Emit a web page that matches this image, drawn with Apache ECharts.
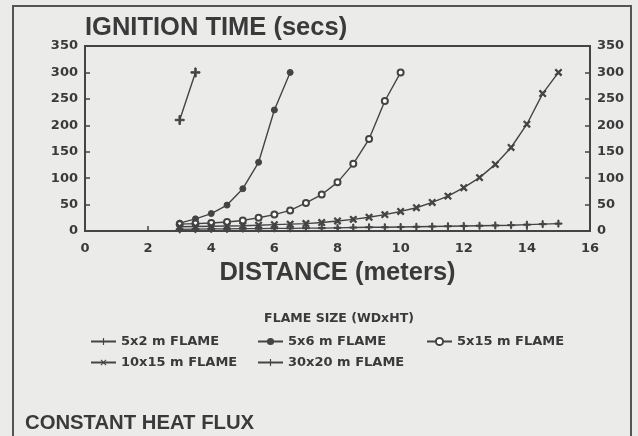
<!DOCTYPE html>
<html><head><meta charset="utf-8">
<script src="https://cdn.jsdelivr.net/npm/echarts@6/dist/echarts.min.js"></script>
<style>html,body{margin:0;padding:0;background:#ebebea;}#c{width:638px;height:436px;}</style>
</head><body><div id="c"></div>
<script>
const xTicks = [0, 2, 4, 6, 8, 10, 12, 14, 16];
const yTicks = [0, 50, 100, 150, 200, 250, 300, 350];
const seriesNames = ['5x2 m FLAME', '5x6 m FLAME', '5x15 m FLAME', '10x15 m FLAME', '30x20 m FLAME'];
const x5x2 = [3, 3.5];
const v5x2 = [210, 300];
const x5x6 = [3, 3.5, 4, 4.5, 5, 5.5, 6, 6.5];
const v5x6 = [15, 23, 33, 49, 80, 130, 229, 300];
const x5x15 = [3, 3.5, 4, 4.5, 5, 5.5, 6, 6.5, 7, 7.5, 8, 8.5, 9, 9.5, 10];
const v5x15 = [13, 14, 15, 17, 20, 25, 31, 39, 53, 69, 92, 127, 174, 246, 300];
const x10x15 = [3, 3.5, 4, 4.5, 5, 5.5, 6, 6.5, 7, 7.5, 8, 8.5, 9, 9.5, 10, 10.5, 11, 11.5, 12, 12.5, 13, 13.5, 14, 14.5, 15];
const v10x15 = [8, 8.5, 9, 9.5, 10, 11, 12, 13, 14, 16, 19, 22, 26, 31, 37, 44, 54, 66, 82, 101, 126, 158, 202, 260, 300];
const x30x20 = [3, 3.5, 4, 4.5, 5, 5.5, 6, 6.5, 7, 7.5, 8, 8.5, 9, 9.5, 10, 10.5, 11, 11.5, 12, 12.5, 13, 13.5, 14, 14.5, 15];
const v30x20 = [3, 3.5, 4, 4, 4.5, 4.5, 5, 5, 5.5, 5.5, 6, 6.5, 7, 7, 7.5, 8, 8.5, 9, 9.5, 10, 10.5, 11, 12, 13, 14];

const ink = '#444444';
const txt = '#3a3a3a';
const FF = 'Liberation Sans, Arial, sans-serif';
const FW = 'DejaVu Sans, sans-serif';
const plus = 'path://M4.2,0H5.8V4.2H10V5.8H5.8V10H4.2V5.8H0V4.2H4.2Z';
const pair = (xs, vs) => xs.map((x, i) => [x, vs[i]]);

const mk = (name, data, symbol, size, extra) => Object.assign({
  name, type: 'line', data, symbol, symbolSize: size,
  lineStyle: { color: ink, width: 1.4 },
  itemStyle: { color: ink, borderColor: ink },
  emphasis: { disabled: true }, animation: false
}, extra || {});

const series = [
  mk(seriesNames[0], pair(x5x2, v5x2), plus, 9),
  mk(seriesNames[1], pair(x5x6, v5x6), 'circle', 6),
  mk(seriesNames[2], pair(x5x15, v5x15), 'emptyCircle', 6, { itemStyle: { color: ink, borderColor: ink, borderWidth: 1.5 } }),
  mk(seriesNames[3], pair(x10x15, v10x15), plus, 8, { symbolRotate: 45 }),
  mk(seriesNames[4], pair(x30x20, v30x20), plus, 7)
];

const legTxt = { color: txt, fontSize: 13, fontWeight: 'bold', fontFamily: FW };
const legBase = { orient: 'vertical', itemWidth: 25, itemHeight: 9, itemGap: 8, textStyle: legTxt, selectedMode: false, top: 330 };
const tickLbl = { color: txt, fontSize: 13, fontWeight: 'bold', fontFamily: FW, margin: 7 };

const chart = echarts.init(document.getElementById('c'));
chart.setOption({
  backgroundColor: '#ebebea',
  animation: false,
  grid: { left: 85, right: 48, top: 46, bottom: 205, show: true, borderColor: ink, borderWidth: 2, backgroundColor: 'transparent' },
  xAxis: {
    type: 'value', min: xTicks[0], max: xTicks[xTicks.length - 1], interval: 2,
    axisLine: { lineStyle: { color: ink, width: 2 } },
    axisTick: { inside: true, length: 5, lineStyle: { color: ink, width: 1.5 } },
    splitLine: { show: false },
    axisLabel: Object.assign({}, tickLbl, { margin: 11 }),
    name: 'DISTANCE (meters)', nameLocation: 'middle', nameGap: 29,
    nameTextStyle: { color: txt, fontSize: 25.5, fontWeight: 'bold', fontFamily: FF }
  },
  yAxis: [{
    type: 'value', min: yTicks[0], max: yTicks[yTicks.length - 1], interval: 50,
    axisLine: { show: true, lineStyle: { color: ink, width: 2 } },
    axisTick: { show: true, inside: true, length: 5, lineStyle: { color: ink, width: 1.5 } },
    splitLine: { show: false },
    axisLabel: tickLbl
  }, {
    type: 'value', position: 'right', min: yTicks[0], max: yTicks[yTicks.length - 1], interval: 50,
    axisLine: { show: true, lineStyle: { color: ink, width: 2 } },
    axisTick: { show: true, inside: true, length: 5, lineStyle: { color: ink, width: 1.5 } },
    splitLine: { show: false },
    axisLabel: tickLbl
  }],
  title: [
    { text: 'IGNITION TIME (secs)', left: 80, top: 10, textStyle: { color: txt, fontSize: 25.5, fontWeight: 'bold', fontFamily: FF } },
    { text: 'FLAME SIZE (WDxHT)', left: 334, textAlign: 'center', top: 307, textStyle: { color: txt, fontSize: 12.5, fontWeight: 'bold', fontFamily: FW } },
    { text: 'CONSTANT HEAT FLUX', left: 20, top: 408, textStyle: { color: txt, fontSize: 20.3, fontWeight: 'bold', fontFamily: FF } }
  ],
  legend: [
    Object.assign({ left: 85, data: [seriesNames[0], seriesNames[3]] }, legBase),
    Object.assign({ left: 252, data: [seriesNames[1], seriesNames[4]] }, legBase),
    Object.assign({ left: 421, data: [seriesNames[2]] }, legBase)
  ],
  graphic: [{
    type: 'rect', shape: { x: 13, y: 6, width: 618, height: 460 },
    style: { fill: 'none', stroke: '#555', lineWidth: 2 }, silent: true
  }],
  series
});
</script></body></html>
